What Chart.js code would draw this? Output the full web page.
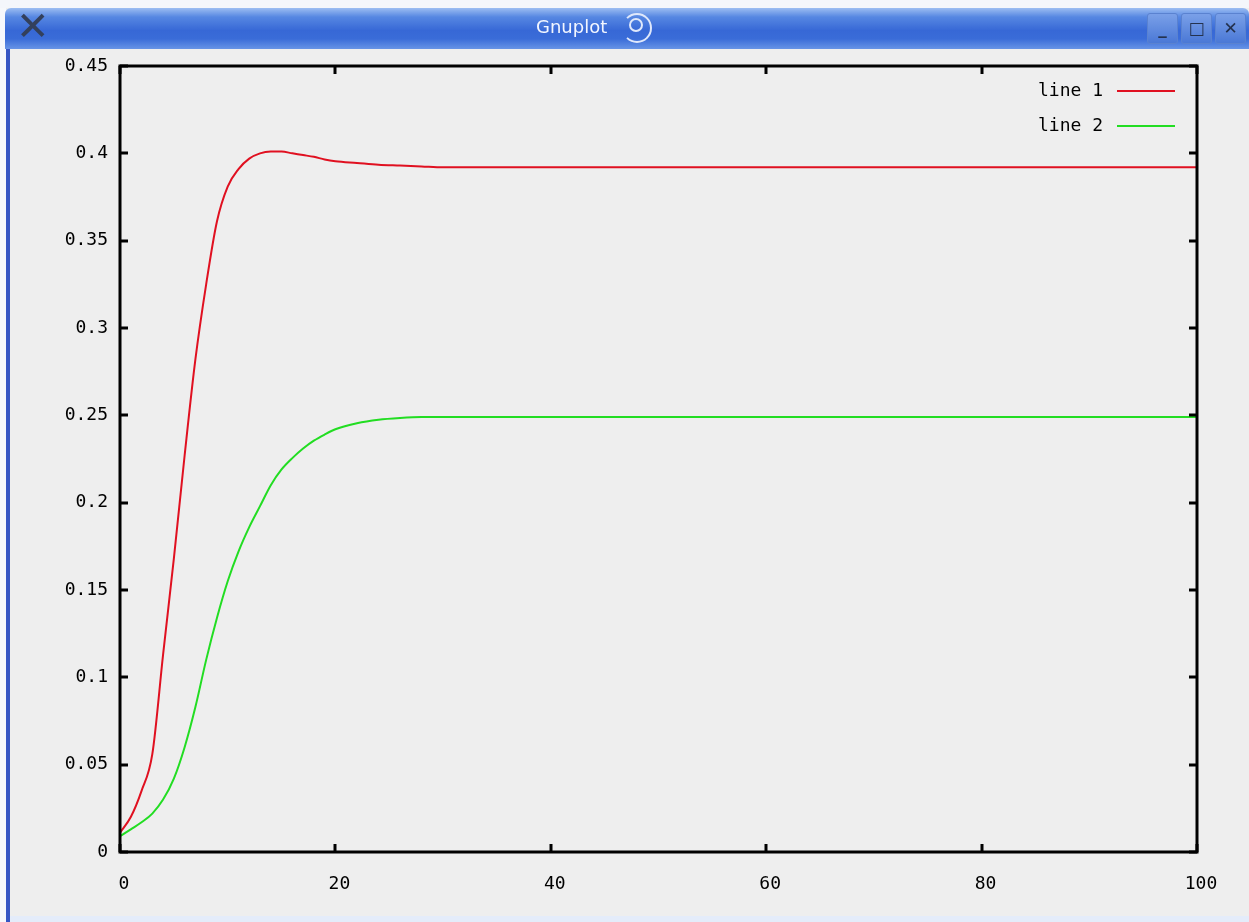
<!DOCTYPE html>
<html>
<head>
<meta charset="utf-8">
<script src="https://cdn.jsdelivr.net/npm/chart.js@4.4.1/dist/chart.umd.min.js"></script>
<style>
    html, body { margin: 0; padding: 0; }
    body { width: 1249px; height: 922px; background: #eeeeee; position: relative; overflow: hidden; font-family: "DejaVu Sans", sans-serif; }
    #plot { position: absolute; left: 0; top: 0; }
    .topstrip { position: absolute; left: 0; top: 0; width: 1249px; height: 8px; background: #f4f6fb; }
    .titlebar { position: absolute; left: 5px; top: 8px; width: 1244px; height: 41px; border-radius: 6px 6px 0 0;
        background: linear-gradient(#9cbdf2 0%, #5687e2 22%, #3768d6 55%, #3a6cd8 75%, #6794e6 100%); }
    .title { position: absolute; left: 531px; top: 8px; color: #f2f6ff; font-size: 18px; font-family: "DejaVu Sans", sans-serif; }
    .swirl { position: absolute; left: 617px; top: 5px; width: 26px; height: 26px; border: 2px solid #dfe8fb; border-radius: 50%; border-left-color: transparent; }
    .swirl2 { position: absolute; left: 624px; top: 10px; width: 10px; height: 10px; border: 2px solid #dfe8fb; border-radius: 50%; }
    .xlogo { position: absolute; left: 11px; top: -5px; font-size: 40px; color: #33405c; font-family: "DejaVu Sans", sans-serif; }
    .btn { position: absolute; top: 5px; width: 29px; height: 29px; border: 1px solid #5a82d0; border-radius: 3px;
        background: linear-gradient(#7aa0e8, #4a78d6); color: #24324f; font-size: 17px; text-align: center; line-height: 28px; font-weight: bold; }
    .leftwhite { position: absolute; left: 0; top: 8px; width: 6px; height: 914px; background: #f6f8fc; }
    .leftblue { position: absolute; left: 6px; top: 49px; width: 4px; height: 873px; background: #3656c4; }
    .bottomstrip { position: absolute; left: 10px; top: 916px; width: 1239px; height: 6px; background: #e4ecfa; }
</style>
</head>
<body>
<canvas id="plot" width="1249" height="922"></canvas>
<div class="topstrip"></div>
<div class="leftwhite"></div>
<div class="leftblue"></div>
<div class="bottomstrip"></div>
<div class="titlebar">
    <div class="xlogo">✕</div>
    <div class="title">Gnuplot</div>
    <div class="swirl"></div>
    <div class="swirl2"></div>
    <div class="btn" style="left:1142px;">_</div>
    <div class="btn" style="left:1176px;">□</div>
    <div class="btn" style="left:1210px;">✕</div>
</div>
<script>
// Values
const xValues = [0, 1, 2, 3, 4, 5, 6, 7, 8, 9, 10, 11, 12, 13, 14, 15, 16, 17, 18, 19, 20,
    22, 24, 26, 28, 30, 40, 50, 60, 70, 80, 90, 100];
const line1Values = [0.011, 0.020, 0.035, 0.056, 0.113, 0.168, 0.227, 0.282, 0.325, 0.361, 0.381,
    0.391, 0.397, 0.400, 0.401, 0.401, 0.400, 0.399, 0.398, 0.3965, 0.3955,
    0.3945, 0.3935, 0.393, 0.3925, 0.392, 0.392, 0.392, 0.392, 0.392, 0.392, 0.392, 0.392];
const line2Values = [0.009, 0.013, 0.017, 0.022, 0.030, 0.042, 0.060, 0.083, 0.110, 0.134, 0.155,
    0.172, 0.186, 0.198, 0.210, 0.219, 0.2255, 0.231, 0.2355, 0.239, 0.242,
    0.2455, 0.2475, 0.2485, 0.249, 0.249, 0.249, 0.249, 0.249, 0.249, 0.249, 0.249, 0.249];
const seriesLabels = ['line 1', 'line 2'];
const yTicks = [0, 0.05, 0.1, 0.15, 0.2, 0.25, 0.3, 0.35, 0.4, 0.45];
const xTicks = [0, 20, 40, 60, 80, 100];

const tickFont = { family: '"DejaVu Sans Mono", monospace', size: 18 };

// Gnuplot style frame: box border with ticks pointing inwards on all four sides
const framePlugin = {
    id: 'frame',
    afterDatasetsDraw(chart) {
        const { ctx, chartArea: a, scales } = chart;
        ctx.save();
        ctx.strokeStyle = '#000';
        ctx.lineWidth = 3;
        ctx.strokeRect(a.left, a.top, a.right - a.left, a.bottom - a.top);
        const len = 8;
        ctx.beginPath();
        yTicks.forEach(v => {
            const py = Math.round(scales.y.getPixelForValue(v));
            ctx.moveTo(a.left, py); ctx.lineTo(a.left + len, py);
            ctx.moveTo(a.right, py); ctx.lineTo(a.right - len, py);
        });
        xTicks.forEach(v => {
            const px = Math.round(scales.x.getPixelForValue(v));
            ctx.moveTo(px, a.bottom); ctx.lineTo(px, a.bottom - len);
            ctx.moveTo(px, a.top); ctx.lineTo(px, a.top + len);
        });
        ctx.stroke();

        // key in the top right corner
        ctx.font = '18px "DejaVu Sans Mono", monospace';
        ctx.textAlign = 'right';
        ctx.textBaseline = 'middle';
        chart.data.datasets.forEach((ds, i) => {
            const y = a.top + 25 + i * 35;
            ctx.fillStyle = '#000';
            ctx.fillText(ds.label, a.right - 94, y);
            ctx.strokeStyle = ds.borderColor;
            ctx.lineWidth = 2;
            ctx.beginPath();
            ctx.moveTo(a.right - 80, y);
            ctx.lineTo(a.right - 22, y);
            ctx.stroke();
        });
        ctx.restore();
    }
};

const colors = ['#e01020', '#22dd22'];
const allValues = [line1Values, line2Values];

new Chart(document.getElementById('plot'), {
    type: 'line',
    data: {
        datasets: allValues.map((vals, i) => ({
            label: seriesLabels[i],
            data: xValues.map((x, j) => ({ x: x, y: vals[j] })),
            borderColor: colors[i],
            borderWidth: 2,
            pointRadius: 0,
            cubicInterpolationMode: 'monotone',
            fill: false
        }))
    },
    options: {
        responsive: false,
        animation: false,
        layout: { padding: { top: 66, right: 52, left: 10, bottom: 0 } },
        plugins: { legend: { display: false }, tooltip: { enabled: false } },
        scales: {
            x: {
                type: 'linear',
                min: 0, max: 100,
                afterBuildTicks: s => { s.ticks = xTicks.map(v => ({ value: v })); },
                afterFit: s => { s.height = 70; },
                grid: { display: false, drawTicks: false },
                border: { display: false },
                ticks: { color: '#000', font: tickFont, padding: 22, labelOffset: 4, maxRotation: 0 }
            },
            y: {
                min: 0, max: 0.45,
                afterBuildTicks: s => { s.ticks = yTicks.map(v => ({ value: v })); },
                afterFit: s => { s.width = 110; },
                grid: { display: false, drawTicks: false },
                border: { display: false },
                ticks: {
                    color: '#000', font: tickFont, padding: 12,
                    callback: v => String(Number(v.toFixed(2)))
                }
            }
        }
    },
    plugins: [framePlugin]
});
</script>
</body>
</html>
